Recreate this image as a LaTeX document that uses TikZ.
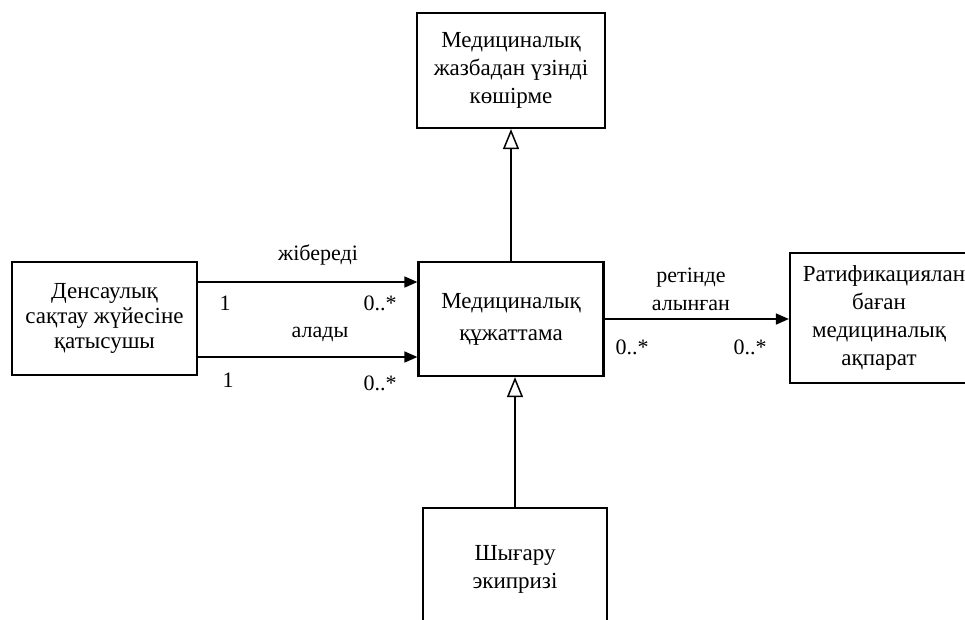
\documentclass[tikz,border=0pt]{standalone}
\usepackage{fontspec}
\setmainfont{Liberation Serif}
\usetikzlibrary{arrows.meta}
\begin{document}
\begin{tikzpicture}[x=1pt,y=-1pt,
  cls/.style={draw,line width=2.2pt,inner sep=0pt,align=center,
    font=\fontsize{23}{28}\selectfont},
  lbl/.style={inner sep=0pt,font=\fontsize{22}{26}\selectfont},
  assoc/.style={line width=1.6pt,-{Triangle[length=13pt,width=11pt]}},
  gen/.style={line width=1.6pt,-{Triangle[open,length=20pt,width=16pt,line width=1.5pt]}}]
\useasboundingbox (0,0) rectangle (965,619);
\node[cls,minimum width=188pt,minimum height=115pt] (mz) at (511,70.5)
  {Медициналық\\жазбадан үзінді\\көшірме};
\node[cls,minimum width=185pt,minimum height=114pt,font=\fontsize{23}{32}\selectfont] (doc) at (511,319)
  {Медициналық\\құжаттама};
\node[cls,minimum width=185pt,minimum height=113pt,font=\fontsize{23}{25}\selectfont] (par) at (104.5,318.5)
  {Денсаулық\\сақтау жүйесіне\\қатысушы};
\node[cls,minimum width=178pt,minimum height=130pt] (rat) at (879,318)
  {\hspace*{10pt}Ратификациялан\\баған\\медициналық\\ақпарат};
\node[cls,minimum width=184pt,minimum height=122pt] (shy) at (515,569)
  {Шығару\\экипризі};
% associations
\draw[assoc] ([yshift=36.5pt]par.east) -- ([yshift=36.5pt]par.east -| doc.west);
\draw[assoc] ([yshift=-38.5pt]par.east) -- ([yshift=-38.5pt]par.east -| doc.west);
\draw[assoc] (doc.east) -- (doc.east -| rat.west);
% generalizations
\draw[gen] (doc.north) -- (doc.north |- mz.south);
\draw[gen] (shy.north) -- (shy.north |- doc.south);
% labels
\node[lbl] (l1) at (318,255) {жібереді};
\node[lbl] (l2) at (225,303) {1};
\node[lbl] (l3) at (380,303) {0..*};
\node[lbl] (l4) at (320,334) {алады};
\node[lbl] (l5) at (228,380) {1};
\node[lbl] (l6) at (380,383) {0..*};
\node[lbl] (l7) at (691,278) {ретінде};
\node[lbl] (l8) at (691,305) {алынған};
\node[lbl] (l9) at (632,347) {0..*};
\node[lbl] (l10) at (750,347) {0..*};
\end{tikzpicture}
\end{document}
